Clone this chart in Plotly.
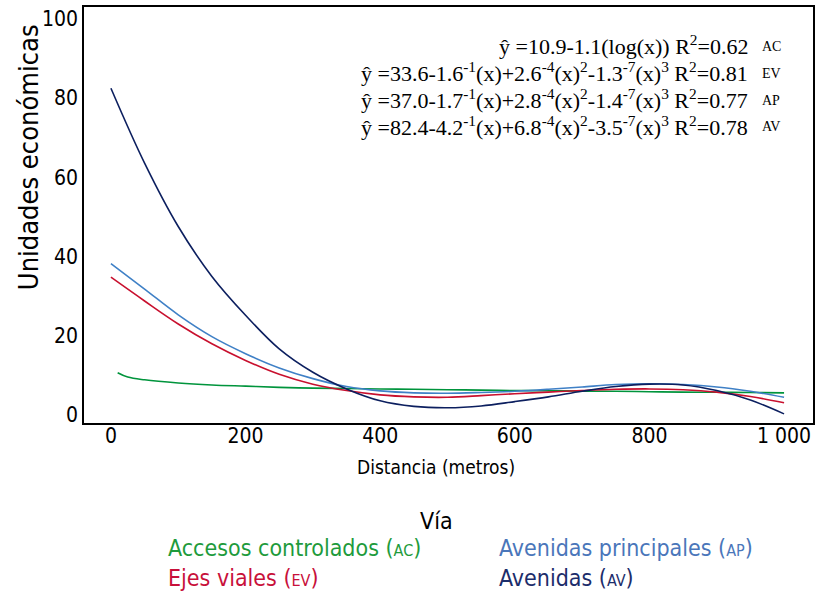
import plotly.graph_objects as go

# Distance from the road (metres) at which each fitted curve is sampled
distancia = [0, 50, 100, 150, 200, 250, 300, 350, 400, 450, 500,
             550, 600, 650, 700, 750, 800, 850, 900, 950, 1000]
distancia_ac = [10, 25, 50, 100, 150, 200, 250, 300, 350, 400, 450, 500,
                550, 600, 650, 700, 750, 800, 850, 900, 950, 1000]

# Fitted economic units per road type
accesos_controlados = [10.7, 9.6, 8.9, 8.1, 7.6, 7.3, 7.0, 6.8, 6.7, 6.6, 6.5,
                       6.4, 6.3, 6.2, 6.15, 6.05, 6.0, 5.9, 5.8, 5.75, 5.7, 5.6]
ejes_viales = [34.8, 28.8, 23.0, 18.0, 13.8, 10.3, 7.8, 6.2, 5.1, 4.6, 4.5,
               4.9, 5.4, 5.8, 6.2, 6.5, 6.6, 6.4, 5.8, 4.7, 3.1]
avenidas_principales = [38.2, 31.8, 25.3, 19.8, 15.5, 11.9, 9.2, 7.2, 6.1,
                        5.6, 5.5, 5.7, 6.0, 6.5, 7.1, 7.7, 7.9, 7.7, 7.1, 6.0,
                        4.5]
avenidas = [82.5, 63.6, 47.6, 35.0, 25.2, 16.7, 10.8, 6.6, 3.6, 2.2, 1.85,
            2.3, 3.4, 4.6, 6.0, 7.2, 7.8, 7.6, 6.2, 3.8, 0.3]

x_tickvals = [0, 200, 400, 600, 800, 1000]
x_ticktext = ["0", "200", "400", "600", "800", "1 000"]
y_tickvals = [0, 20, 40, 60, 80, 100]

ecuaciones = [
    ("ŷ =10.9-1.1(log(x)) R<sup>2</sup>=0.62", "AC"),
    ("ŷ =33.6-1.6<sup>-1</sup>(x)+2.6<sup>-4</sup>(x)<sup>2</sup>-1.3<sup>-7</sup>(x)<sup>3</sup> R<sup>2</sup>=0.81", "EV"),
    ("ŷ =37.0-1.7<sup>-1</sup>(x)+2.8<sup>-4</sup>(x)<sup>2</sup>-1.4<sup>-7</sup>(x)<sup>3</sup> R<sup>2</sup>=0.77", "AP"),
    ("ŷ =82.4-4.2<sup>-1</sup>(x)+6.8<sup>-4</sup>(x)<sup>2</sup>-3.5<sup>-7</sup>(x)<sup>3</sup> R<sup>2</sup>=0.78", "AV"),
]

C_AC = "#00943c"
C_EV = "#c8102e"
C_AP = "#3f80c6"
C_AV = "#0c1f5f"

W, H = 816, 592
L, R, T, B = 84, 815, 7, 423


def px(x):
    return (x - L) / (R - L)


def py(y):
    return 1 - (y - T) / (B - T)


fig = go.Figure()
series = [
    (distancia_ac, accesos_controlados, C_AC),
    (distancia, ejes_viales, C_EV),
    (distancia, avenidas_principales, C_AP),
    (distancia, avenidas, C_AV),
]
for xs, ys, col in series:
    fig.add_trace(go.Scatter(x=xs, y=ys, mode="lines",
                             line=dict(color=col, width=1.6, shape="spline",
                                       smoothing=1.0),
                             showlegend=False, hoverinfo="skip"))

narrow = "DejaVu Sans Condensed, DejaVu Sans, sans-serif"
serif = "Liberation Serif, Times New Roman, serif"

annotations = []
eq_y = [45, 72, 99, 126]
for (eq, tag), yy in zip(ecuaciones, eq_y):
    annotations.append(dict(text=eq, x=px(752), y=py(yy), xref="paper",
                            yref="paper", xanchor="right", yanchor="middle",
                            showarrow=False,
                            font=dict(family=serif, size=22, color="black")))
    annotations.append(dict(text=tag, x=px(762), y=py(yy + 1), xref="paper",
                            yref="paper", xanchor="left", yanchor="middle",
                            showarrow=False,
                            font=dict(family=serif, size=14, color="black")))

sc = "<span style='font-size:16px'>{}</span>"
leyenda = [
    ("Vía", 437, 521, "center", "black"),
    ("Accesos controlados (" + sc.format("AC") + ")", 166, 548, "left", "#1e9b3c"),
    ("Ejes viales (" + sc.format("EV") + ")", 166, 578, "left", "#c8103a"),
    ("Avenidas principales (" + sc.format("AP") + ")", 498, 548, "left", "#4a76ba"),
    ("Avenidas (" + sc.format("AV") + ")", 498, 578, "left", "#1c2d6b"),
]
for txt, xx, yy, anc, col in leyenda:
    annotations.append(dict(text=txt, x=px(xx), y=py(yy), xref="paper",
                            yref="paper", xanchor=anc, yanchor="middle",
                            showarrow=False,
                            font=dict(family=narrow, size=23, color=col)))

# axis titles
annotations.append(dict(text="Distancia (metros)", x=px(437), y=py(467),
                        xref="paper", yref="paper", xanchor="center",
                        yanchor="middle", showarrow=False,
                        font=dict(family=narrow, size=19, color="black")))
annotations.append(dict(text="Unidades económicas", x=px(28), y=py(157),
                        xref="paper", yref="paper", xanchor="center",
                        yanchor="middle", showarrow=False, textangle=-90,
                        font=dict(family=narrow, size=27, color="black")))

axis_common = dict(showline=True, linecolor="black", linewidth=1.5,
                   mirror=True, showgrid=False, zeroline=False, ticks="")

fig.update_layout(
    width=W, height=H,
    margin=dict(l=L, r=W - R, t=T, b=H - B),
    paper_bgcolor="white", plot_bgcolor="white",
    xaxis=dict(range=[-40, 1043], tickvals=x_tickvals, ticktext=x_ticktext,
               ticklabelstandoff=-7,
               tickfont=dict(family=narrow, size=21, color="black"),
               **axis_common),
    yaxis=dict(range=[-2, 103], tickvals=y_tickvals,
               tickfont=dict(family=narrow, size=21, color="black"),
               **axis_common),
    annotations=annotations,
)

fig.write_html("out.html")
